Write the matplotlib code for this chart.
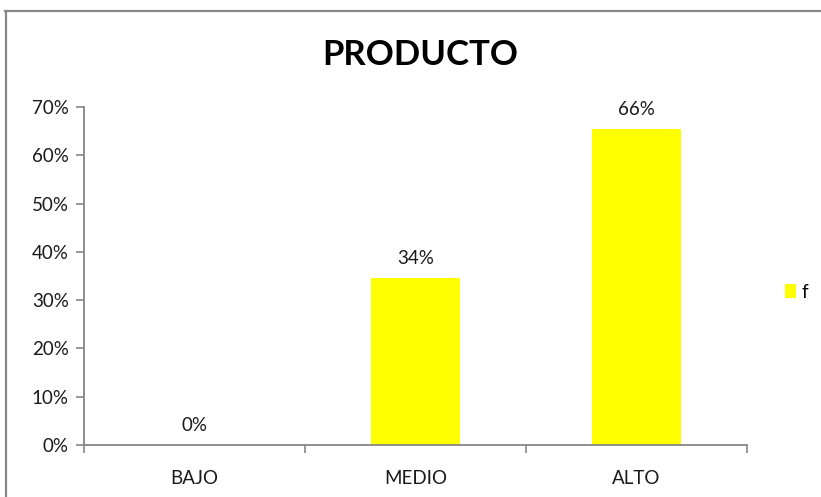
import matplotlib
matplotlib.use("Agg")
import matplotlib.pyplot as plt
from matplotlib.lines import Line2D
from matplotlib.patches import Patch
from matplotlib.ticker import FuncFormatter, FixedLocator

categories = ["BAJO", "MEDIO", "ALTO"]
values = [0.0, 0.345, 0.655]
labels = ["0%", "34%", "66%"]
series_name = "f"
title = "PRODUCTO"

plt.rcParams['font.family'] = ['Lato', 'DejaVu Sans']

W, H = 821, 497
fig = plt.figure(figsize=(W / 100, H / 100), dpi=100)
ax = fig.add_axes([84 / W, 1 - 445 / H, (747 - 84) / W, (445 - 107) / H])

x = list(range(len(categories)))
ax.bar(x, values, width=0.4, color="#FFFF00")
ax.set_xlim(-0.5, len(categories) - 0.5)
ax.set_ylim(0, 0.70)

for xi, v, lab in zip(x, values, labels):
    ax.annotate(lab, (xi, v), xytext=(0, 8), textcoords="offset points",
                ha="center", va="bottom", fontsize=13.5, color="#1a1a1a")

ax.yaxis.set_major_locator(FixedLocator([i / 10 for i in range(8)]))
ax.yaxis.set_major_formatter(FuncFormatter(lambda v, p: f"{v*100:.0f}%"))
ax.set_xticks(x)
ax.set_xticklabels(categories)
ax.xaxis.set_minor_locator(FixedLocator([i - 0.5 for i in range(len(categories) + 1)]))
ax.tick_params(axis="x", which="major", length=0, pad=18, labelsize=13.5, labelcolor="#1a1a1a")
ax.tick_params(axis="x", which="minor", length=6, width=1.2, color="#868686")
ax.tick_params(axis="y", length=6, width=1.2, color="#868686", labelsize=13.5, labelcolor="#1a1a1a", pad=5)

for s in ["top", "right"]:
    ax.spines[s].set_visible(False)
for s in ["left", "bottom"]:
    ax.spines[s].set_color("#868686")
    ax.spines[s].set_linewidth(1.3)

fig.text(420 / W, 1 - 55 / H, title, ha="center", va="center", fontsize=25, fontweight="bold", color="#000000")

leg = fig.legend(handles=[Patch(facecolor="#FFFF00", label=series_name)], loc="center left",
                 bbox_to_anchor=(768 / W, 1 - 292 / H), frameon=False, fontsize=13.5,
                 handlelength=0.6, handleheight=0.7, handletextpad=0.3)

fig.add_artist(Line2D([5 / W, 1], [1 - 10.5 / H, 1 - 10.5 / H], transform=fig.transFigure, color="#878787", lw=1.6))
fig.add_artist(Line2D([6 / W, 6 / W], [0, 1 - 10.5 / H], transform=fig.transFigure, color="#878787", lw=1.6))

fig.savefig("out.png", dpi=100)
